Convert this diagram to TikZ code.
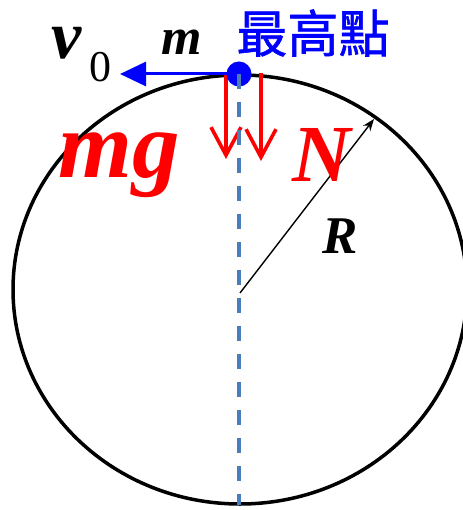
\documentclass[tikz,border=0pt]{standalone}
\usepackage{fontspec}
\setmainfont{Liberation Serif}
\newfontfamily\cjk{Noto Sans CJK TC}[FakeBold=1.2]
\usetikzlibrary{arrows.meta}
\definecolor{dashblue}{HTML}{4A7EBB}
\begin{document}
\begin{tikzpicture}[x=1pt,y=-1pt,
  lbl/.style={inner sep=0pt,anchor=base west,font=\bfseries\itshape},
  redarrow/.style={red,line width=3.6pt,-{Straight Barb[length=28pt,width=30pt,line width=3.6pt]}},
  bluearrow/.style={blue,line width=3pt,-{Triangle[length=26pt,width=24pt]}}]
\useasboundingbox (0,0) rectangle (462,510);
% circle (ellipse)
\draw[line width=3.5pt] (240,289.5) ellipse [x radius=227, y radius=214.5];
% centre and points
\coordinate (O) at (240,293);
\coordinate (T) at (239,74);
\coordinate (B) at (239,505);
\coordinate (Rtip) at (374,119);
\coordinate (vtip) at (120,74);
\coordinate (g0) at (226,73);
\coordinate (g1) at (226,159);
\coordinate (n0) at (261,73);
\coordinate (n1) at (261,161);
% forces
\draw[redarrow] (g0) -- (g1);
\draw[redarrow] (n0) -- (n1);
% velocity
\draw[bluearrow] (T) -- (vtip);
% mass point
\fill[blue] (T) circle (12.5);
% dashed vertical
\draw[dashblue,line width=4pt,dash pattern=on 15pt off 13pt] (T) -- (B);
% radius
\draw[line width=1.4pt,-{Stealth[length=12pt,width=9pt]}] (O) -- (Rtip);
% labels
\node[lbl,font=\bfseries\itshape\fontsize{68}{68}\selectfont] (v) at (51,59) {v};
\node[inner sep=0pt,anchor=base west,font=\fontsize{44}{44}\selectfont] (zero) at (89,82) {0};
\node[lbl,font=\bfseries\itshape\fontsize{52}{52}\selectfont] (m) at (161,55) {m};
\node[inner sep=0pt,blue,font=\cjk\fontsize{51}{51}\selectfont] (top) at (313,33) {最高點};
\node[lbl,red,font=\bfseries\itshape\fontsize{95}{95}\selectfont] (mg) at (58,178) {mg};
\node[lbl,red,font=\bfseries\itshape\fontsize{81}{81}\selectfont] (N) at (292,182) {N};
\node[lbl,font=\bfseries\itshape\fontsize{53}{53}\selectfont] (R) at (322,253) {R};
\end{tikzpicture}
\end{document}
